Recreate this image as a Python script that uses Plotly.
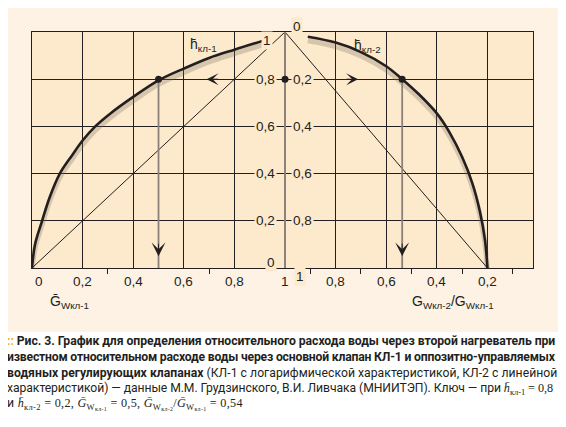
import plotly.graph_objects as go

# левая половина: h кл-1 от G кл-1 (логарифмическая характеристика)
g1 = [0, 0.012, 0.04, 0.07, 0.11, 0.16, 0.2, 0.25, 0.31, 0.4, 0.5, 0.6, 0.7, 0.8, 0.92]
h1 = [0, 0.1, 0.2, 0.3, 0.4, 0.48, 0.54, 0.6, 0.655, 0.725, 0.795, 0.845, 0.89, 0.925, 0.965]

# правая половина: h кл-2 от G кл-2 / G кл-1
g2 = [0.91, 0.8, 0.7, 0.6, 0.537, 0.47, 0.4, 0.35, 0.3, 0.26, 0.23, 0.21, 0.2]
h2 = [0.02, 0.045, 0.085, 0.145, 0.2, 0.265, 0.345, 0.425, 0.53, 0.64, 0.76, 0.88, 1.0]

# линейные характеристики
lin1_g = [0, 1]
lin1_h = [0, 1]
lin2_g = [1, 0.2]
lin2_h = [0, 1]

# ключ
key_g1, key_h1 = 0.5, 0.8
key_g2, key_h2 = 0.537, 0.2

grid_vals = [0.2, 0.4, 0.6, 0.8]
minor_left = [0.3, 0.7]
minor_right = [0.9, 0.7, 0.5, 0.3, 0.1]
tick_vals = [0, 0.2, 0.4, 0.6, 0.8, 1]
tick_text = ['0', '0,2', '0,4', '0,6', '0,8', '1']

INK = '#231f20'
GREY = '#8c817a'
PLOT_BG = '#fde9cb'
PANEL = '#fdf2e3'
FONT = 'Liberation Sans, Arial, sans-serif'


def rx(v):
    # правая шкала идёт от 1 (в центре) до 0 (справа)
    return 2 - v


def ry(v):
    return 1 - v


fig = go.Figure()

shadow = 'rgba(120,105,90,0.28)'
dy = 0.017
fig.add_trace(go.Scatter(x=g1, y=[v - dy for v in h1], mode='lines',
                         line=dict(color=shadow, width=5, shape='spline')))
fig.add_trace(go.Scatter(x=[rx(v) for v in g2], y=[ry(v) - dy for v in h2], mode='lines',
                         line=dict(color=shadow, width=5, shape='spline')))

# диагонали
fig.add_trace(go.Scatter(x=lin1_g, y=lin1_h, mode='lines', line=dict(color=INK, width=1)))
fig.add_trace(go.Scatter(x=[rx(v) for v in lin2_g], y=[ry(v) for v in lin2_h], mode='lines',
                         line=dict(color=INK, width=1)))

# центральная ось и линии ключа
fig.add_trace(go.Scatter(x=[1, 1], y=[0, 1], mode='lines', line=dict(color=GREY, width=2)))
fig.add_trace(go.Scatter(x=[key_g1, key_g1], y=[key_h1, 0], mode='lines',
                         line=dict(color=GREY, width=1.8)))
fig.add_trace(go.Scatter(x=[rx(key_g2), rx(key_g2)], y=[ry(key_h2), 0], mode='lines',
                         line=dict(color=GREY, width=1.8)))

# кривые
fig.add_trace(go.Scatter(x=g1, y=h1, mode='lines', line=dict(color=INK, width=2.6, shape='spline')))
fig.add_trace(go.Scatter(x=[rx(v) for v in g2], y=[ry(v) for v in h2], mode='lines',
                         line=dict(color=INK, width=2.6, shape='spline')))

fig.add_trace(go.Scatter(x=[key_g1, 1, rx(key_g2)], y=[key_h1, key_h1, ry(key_h2)], mode='markers',
                         marker=dict(color=INK, size=7)))

ann = []
lab_font = dict(family=FONT, size=13.5, color=INK)

# подписи центральной оси
for v, t in zip(tick_vals, tick_text):
    ys = -8 if v == 1 else (6 if v == 0 else 0)
    xs = -12 if v == 1 else -8
    ann.append(dict(x=1, y=v, xref='x', yref='y', text=t, showarrow=False, xanchor='right',
                    yanchor='middle', xshift=xs, yshift=ys, bgcolor=PLOT_BG, borderpad=1,
                    font=lab_font))
    r = ry(v)
    ys = -8 if r == 0 else (6 if r == 1 else 0)
    xs = 9 if r == 0 else 6
    ann.append(dict(x=1, y=r, xref='x', yref='y', text=t, showarrow=False, xanchor='left',
                    yanchor='middle', xshift=xs, yshift=ys, bgcolor=PLOT_BG, borderpad=1,
                    font=lab_font))

# подписи нижней оси
for v, t in zip(tick_vals[:-1], tick_text[:-1]):
    ann.append(dict(x=v, y=0, xref='x', yref='y', text=t, showarrow=False, yanchor='top',
                    yshift=-4, xshift=7 if v == 0 else 0, font=lab_font))
    ann.append(dict(x=rx(v), y=0, xref='x', yref='y', text=t, showarrow=False, yanchor='top',
                    yshift=-4, xshift=-9 if v == 0 else 0, font=lab_font))
ann.append(dict(x=1, y=0, xref='x', yref='y', text='1', showarrow=False, yanchor='top',
                yshift=-4, font=lab_font))

# названия осей и кривых
ann.append(dict(x=0.15, y=-0.19, xref='x', yref='paper', text='G\u0304<sub>Wкл-1</sub>',
                showarrow=False, font=dict(family=FONT, size=14, color=INK)))
ann.append(dict(x=1.664, y=-0.19, xref='x', yref='paper',
                text='G<sub>Wкл-2</sub>/G<sub>Wкл-1</sub>',
                showarrow=False, font=dict(family=FONT, size=14, color=INK)))
ann.append(dict(x=0.676, y=0.945, xref='x', yref='y', text='h\u0304<sub>кл-1</sub>',
                showarrow=False, font=dict(family=FONT, size=14, color=INK)))
ann.append(dict(x=1.324, y=0.94, xref='x', yref='y', text='h\u0304<sub>кл-2</sub>',
                showarrow=False, font=dict(family=FONT, size=14, color=INK)))

# стрелки
arrow = dict(xref='x', yref='y', text='', showarrow=True, arrowhead=3, arrowwidth=1,
             arrowcolor=INK, standoff=0)
ann.append(dict(arrow, x=0.69, y=key_h1, ax=13, ay=0, arrowsize=2))
ann.append(dict(arrow, x=1.289, y=ry(key_h2), ax=-13, ay=0, arrowsize=2))
ann.append(dict(arrow, x=key_g1, y=0.05, ax=0, ay=-14, arrowsize=2.3))
ann.append(dict(arrow, x=rx(key_g2), y=0.05, ax=0, ay=-14, arrowsize=2.3))

# подпись к рисунку
cap_font = dict(family='Roboto, sans-serif', size=12.2, color=INK)
serif = "<span style='font-family:Liberation Serif'>"
caption = [
    "<span style='color:#f2b01e'><b>::</b></span> <b>Рис. 3.</b> <b>График для определения "
    "относительного расхода воды через второй нагреватель при</b>",
    "<b>известном относительном расходе воды через основной клапан КЛ-1 и оппозитно-управляемых</b>",
    "<b>водяных регулирующих клапанах</b> (КЛ-1 с логарифмической характеристикой, КЛ-2 с линейной",
    "характеристикой) — данные М.М. Грудзинского, В.И. Ливчака (МНИИТЭП). Ключ — при "
    + serif + "<i>h\u0304</i><sub>кл-1</sub> = 0,8</span>",
    "и " + serif + "<i>h\u0304</i><sub>кл-2</sub> = 0,2, <i>G\u0304</i><sub>W<sub>кл-1</sub></sub> = 0,5, "
    "<i>G\u0304</i><sub>W<sub>кл-2</sub></sub>/<i>G\u0304</i><sub>W<sub>кл-1</sub></sub> = 0,54</span>",
]
spacing = ['-0.04px', '-0.19px', '0.03px', '-0.07px', '0.3px']
cap_y = [341, 357, 373, 389, 404]
for t, sp, py in zip(caption, spacing, cap_y):
    ann.append(dict(x=(5 - 32) / 501, y=(268 - py) / 236, xref='paper', yref='paper',
                    text="<span style='letter-spacing:%s'>%s</span>" % (sp, t),
                    showarrow=False, xanchor='left', yanchor='middle', font=cap_font))

# страница добавляет отступ 8 px, поэтому холст на 8 px меньше
fig.update_layout(
    width=558, height=419, autosize=False,
    margin=dict(l=24, r=33, t=24, b=159),
    paper_bgcolor='white', plot_bgcolor=PLOT_BG,
    showlegend=False,
    annotations=ann,
    shapes=[
        dict(type='rect', xref='paper', yref='paper', x0=(3 - 32) / 501, x1=(561 - 32) / 501,
             y0=(268 - 332) / 236, y1=(268 - 3) / 236, fillcolor=PANEL, line_width=0, layer='below'),
        dict(type='rect', xref='paper', yref='paper', x0=0, x1=1, y0=0, y1=1,
             fillcolor=PLOT_BG, line_width=0, layer='below'),
    ],
    xaxis=dict(range=[0, 1.98], tickvals=grid_vals + [rx(v) for v in grid_vals],
               showticklabels=False, ticks='', showgrid=True, gridcolor=INK, gridwidth=1,
               zeroline=False, showline=True, linecolor=INK, linewidth=1, mirror=True,
               minor=dict(tickvals=minor_left + [rx(v) for v in minor_right], ticks='outside',
                          ticklen=5, tickcolor=INK, tickwidth=1, showgrid=False)),
    yaxis=dict(range=[0, 1], tickvals=grid_vals, showticklabels=False, ticks='',
               showgrid=True, gridcolor=INK, gridwidth=1, zeroline=False,
               showline=True, linecolor=INK, linewidth=1, mirror=True),
)

fig.write_html("out.html")
